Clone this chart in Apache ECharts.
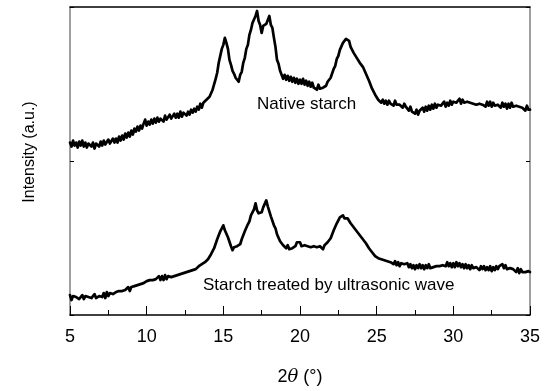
<!DOCTYPE html>
<html>
<head>
<meta charset="utf-8">
<script src="https://cdn.jsdelivr.net/npm/echarts@6/dist/echarts.min.js"></script>
<style>
  html, body { margin: 0; padding: 0; background: #fff; }
  #chart { width: 551px; height: 391px; }
</style>
</head>
<body>
<div id="chart"></div>
<script>
// XRD patterns, 2θ scan 5–35° at 0.1° step; intensity in arbitrary units
const START_ANGLE = 5;
const STEP = 0.1;

const nativeStarch = [
  173,169,175,170,173,168,174,170,175,169,
  173,168,172,174,169,173,167,172,174,169,
  174,170,175,171,169,176,172,171,177,173,
  177,173,179,175,180,176,182,178,183,179,
  185,181,187,184,189,185,190,187,192,196,
  190,194,191,196,192,197,193,198,194,197,
  199,194,200,196,195,201,197,196,202,198,
  202,198,204,199,203,205,200,204,201,206,
  203,207,204,209,206,212,208,213,212,216,
  215,219,221,226,228,237,243,253,260,267,
  271,278,273,267,256,251,245,242,238,238,
  234,241,244,253,258,267,271,281,286,293,
  295,300,305,295,291,283,290,292,292,296,
  300,291,288,278,269,256,252,245,243,237,
  241,236,240,235,239,234,238,233,237,232,
  236,232,237,231,235,230,234,229,233,228,
  230,226,231,227,227,228,228,230,234,235,
  238,240,247,250,257,260,266,268,273,274,
  277,276,275,269,268,263,263,258,258,253,
  254,249,248,242,240,235,233,227,226,221,
  221,216,217,213,216,212,215,211,215,212,
  214,210,215,211,211,211,212,208,212,209,
  209,205,209,204,205,202,206,201,205,205,
  208,204,209,205,210,206,211,207,212,208,
  211,211,210,210,214,209,213,210,215,211,
  214,214,213,213,217,212,216,213,213,214,
  213,213,212,212,211,211,212,212,211,211,
  213,209,214,210,214,209,213,210,210,211,
  212,208,213,209,212,207,212,208,213,209,
  210,210,209,209,208,208,209,205,210,206,
  206
];

const ultrasonicStarch = [
  20,15,19,19,18,17,16,17,20,16,
  19,19,18,18,17,18,21,17,18,19,
  21,18,22,17,23,19,22,22,21,21,
  23,23,24,24,24,25,25,24,28,24,
  28,28,29,29,30,30,31,31,32,32,
  34,34,35,35,35,36,36,35,39,35,
  39,35,40,36,39,39,38,38,39,39,
  40,40,41,41,42,42,43,43,44,44,
  45,45,46,46,49,48,51,50,53,53,
  56,56,61,62,67,69,76,78,84,85,
  90,85,84,78,76,69,65,68,68,69,
  69,71,76,78,84,86,91,94,100,101,
  106,112,105,102,102,103,108,108,115,109,
  108,99,97,90,87,81,79,74,75,70,
  71,67,70,66,67,67,68,69,73,75,
  73,69,70,70,69,69,68,68,69,69,
  69,68,68,69,69,66,70,70,73,74,
  77,79,85,87,92,94,98,100,100,97,
  98,97,96,92,92,88,88,84,85,80,
  81,76,76,72,72,67,67,63,63,59,
  60,57,57,56,56,55,55,54,54,53,
  55,51,54,50,53,49,52,51,51,50,
  52,48,51,47,50,46,50,47,51,47,
  50,46,50,47,51,47,48,48,49,49,
  49,49,50,50,50,49,53,49,52,48,
  52,48,53,49,52,48,51,47,51,47,
  50,46,50,47,48,48,49,45,49,46,
  49,45,48,45,49,44,48,45,49,46,
  49,48,51,47,50,46,47,47,46,46,
  47,43,47,42,46,43,43,43,44,44,
  43
];

const X_MIN = 5, X_MAX = 35, X_INTERVAL = 5;
const Y_MIN = 0, Y_MAX = 309;

const FONT = '"Liberation Sans", Arial, sans-serif';
const INK = '#000000';
const FRAME_SIDE = '#808080';

const toPairs = (vals) => vals.map((v, i) => [+(START_ANGLE + i * STEP).toFixed(1), v]);

const chart = echarts.init(document.getElementById('chart'), null, { renderer: 'canvas' });

const lineSeries = (name, vals) => ({
  name,
  type: 'line',
  data: toPairs(vals),
  showSymbol: false,
  lineStyle: { color: INK, width: 2.7, join: 'round', cap: 'round' },
  itemStyle: { color: INK },
  silent: true,
});

chart.setOption({
  animation: false,
  backgroundColor: '#ffffff',
  grid: { left: 70, right: 21, top: 7, bottom: 75 },
  xAxis: [{
    type: 'value',
    min: X_MIN, max: X_MAX, interval: X_INTERVAL,
    name: '{n|2}{t|θ}{n| (°)}',
    nameLocation: 'middle',
    nameGap: 53,
    nameTextStyle: {
      rich: {
        n: { fontFamily: FONT, fontSize: 18, color: INK },
        t: { fontFamily: '"DejaVu Serif", serif', fontStyle: 'italic', fontSize: 18, color: INK },
      },
    },
    axisLine: { onZero: false, lineStyle: { color: INK, width: 1.5 } },
    axisTick: { inside: true, length: 9, lineStyle: { color: INK, width: 1 } },
    minorTick: { show: true, splitNumber: 2, length: 5, lineStyle: { color: INK, width: 1 } },
    axisLabel: { color: INK, fontFamily: FONT, fontSize: 18, margin: 13 },
    splitLine: { show: false },
  }, {
    type: 'value',
    position: 'top',
    min: X_MIN, max: X_MAX,
    axisLine: { onZero: false, lineStyle: { color: INK, width: 1.5 } },
    axisTick: { show: false },
    axisLabel: { show: false },
    splitLine: { show: false },
  }],
  yAxis: [{
    type: 'value',
    min: Y_MIN, max: Y_MAX, interval: (Y_MAX - Y_MIN) / 2,
    name: 'Intensity (a.u.)',
    nameLocation: 'middle',
    nameGap: 32,
    nameTextStyle: { color: INK, fontFamily: FONT, fontSize: 16, padding: [0, 0, 0, 18] },
    axisLine: { onZero: false, lineStyle: { color: FRAME_SIDE, width: 1.5 } },
    axisTick: { inside: true, length: 4, lineStyle: { color: INK, width: 1 } },
    axisLabel: { show: false },
    splitLine: { show: false },
  }, {
    type: 'value',
    position: 'right',
    min: Y_MIN, max: Y_MAX, interval: (Y_MAX - Y_MIN) / 2,
    axisLine: { onZero: false, lineStyle: { color: FRAME_SIDE, width: 1.5 } },
    axisTick: { inside: true, length: 4, lineStyle: { color: INK, width: 1 } },
    axisLabel: { show: false },
    splitLine: { show: false },
  }],
  // curve labels sit inside the plot, below each pattern
  graphic: [{
    type: 'text',
    left: 257, top: 96,
    style: { text: 'Native starch', fill: INK, font: '17px ' + FONT },
  }, {
    type: 'text',
    left: 203, top: 277,
    style: { text: 'Starch treated by ultrasonic wave', fill: INK, font: '17px ' + FONT },
  }],
  series: [
    lineSeries('Native starch', nativeStarch),
    lineSeries('Starch treated by ultrasonic wave', ultrasonicStarch),
  ],
});
</script>
</body>
</html>
